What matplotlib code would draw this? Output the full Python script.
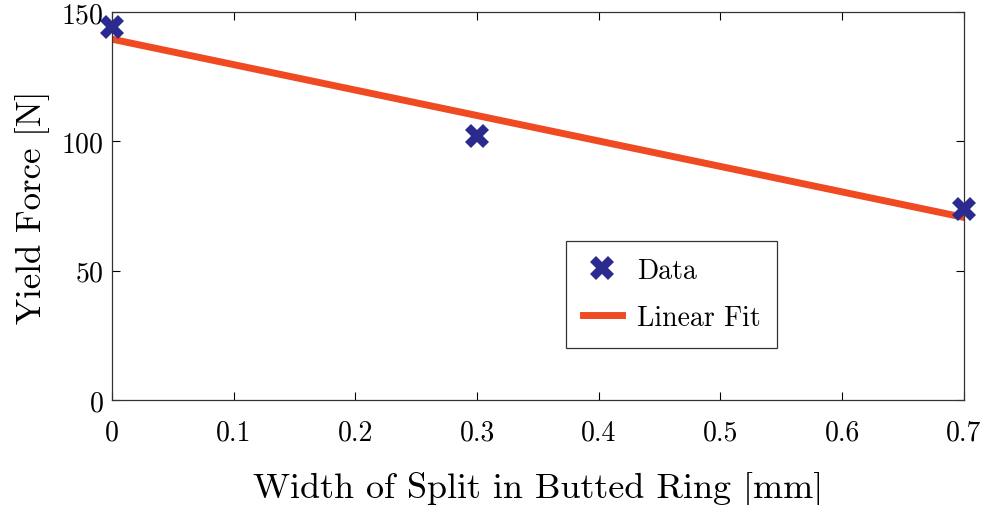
import numpy as np
import matplotlib
matplotlib.use("Agg")
import matplotlib.pyplot as plt

# measured yield force against split width
split_width = [0.0, 0.3, 0.7]
yield_force = [144.0, 102.0, 74.0]

x_ticks = [0, 0.1, 0.2, 0.3, 0.4, 0.5, 0.6, 0.7]
y_ticks = [0, 50, 100, 150]

plt.rcParams['font.family'] = 'cmr10'
plt.rcParams['axes.formatter.use_mathtext'] = True

slope, intercept = np.polyfit(split_width, yield_force, 1)
fit_x = np.array([min(split_width), max(split_width)])
fit_y = slope * fit_x + intercept

fig = plt.figure(figsize=(9.87, 5.06), dpi=100)
ax = fig.add_axes([0.1135, 0.2075, 0.863, 0.767])

ax.plot(split_width, yield_force, linestyle='none', marker='X', markersize=17,
        color='#2b2b8f', markeredgewidth=0, label='Data', zorder=3, clip_on=False)
ax.plot(fit_x, fit_y, color='#f04a22', linewidth=5, label='Linear Fit', zorder=2)

ax.set_xlim(0, 0.7)
ax.set_ylim(0, 150)
ax.set_xticks(x_ticks)
ax.set_xticklabels([f'{t:g}' for t in x_ticks])
ax.set_yticks(y_ticks)
ax.tick_params(direction='in', top=True, right=True, labelsize=20, length=6, width=0.8)
ax.tick_params(axis='x', pad=14)
ax.tick_params(axis='y', pad=6)
for s in ax.spines.values():
    s.set_linewidth(0.9)
    s.set_color('#333333')

ax.set_xlabel('Width of Split in Butted Ring [mm]', fontsize=26, labelpad=18)
ax.set_ylabel('Yield Force [N]', fontsize=25, labelpad=8)

leg = ax.legend(loc='upper left', bbox_to_anchor=(0.533, 0.41),
                fontsize=20, fancybox=False, edgecolor='#333333', framealpha=1,
                handlelength=1.4, handletextpad=0.55, borderaxespad=0,
                borderpad=0.6, labelspacing=0.75)
leg.get_frame().set_linewidth(0.9)

fig.savefig('out.png', dpi=100)
